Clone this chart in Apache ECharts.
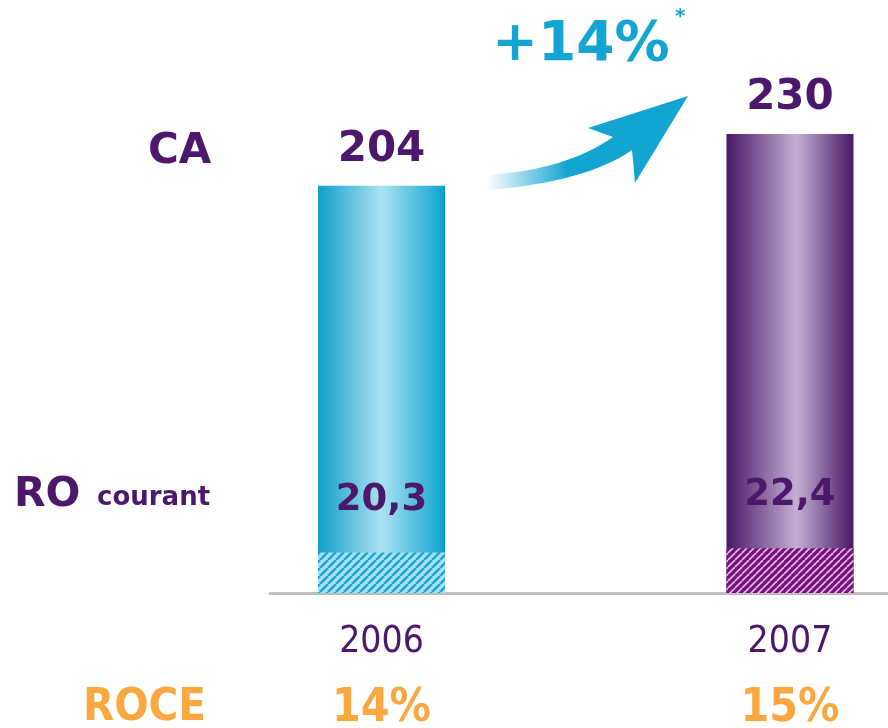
<!DOCTYPE html>
<html>
<head>
<meta charset="utf-8">
<script src="https://cdn.jsdelivr.net/npm/echarts@6/dist/echarts.min.js"></script>
<style>
html,body{margin:0;padding:0;background:#fff;}
#main{width:888px;height:728px;}
</style>
</head>
<body>
<div id="main"></div>
<script>
var years = ['2006', '2007'];
var ca = [204, 230];
var ro = [20.3, 22.4];
var roce = ['14%', '15%'];
var growth = '+14%';

var purple = '#4b186c';
var orange = '#f9a83f';
var cyan = '#12a5d1';

// striped fill for the lower (RO) part of the bars
function hatch(bg, fg, lw, step) {
    var c = document.createElement('canvas');
    c.width = step; c.height = step;
    var g = c.getContext('2d');
    g.fillStyle = bg;
    g.fillRect(0, 0, step, step);
    g.strokeStyle = fg;
    g.lineWidth = lw;
    for (var k = -1; k <= 1; k++) {
        g.beginPath();
        g.moveTo(k * step, step);
        g.lineTo(k * step + step, 0);
        g.stroke();
    }
    return c;
}

// quadratic curve sampled into points (for the arrow outline)
function quad(p0, c, p1, n) {
    var pts = [];
    for (var i = 0; i <= n; i++) {
        var t = i / n, u = 1 - t;
        pts.push([u * u * p0[0] + 2 * u * t * c[0] + t * t * p1[0],
                  u * u * p0[1] + 2 * u * t * c[1] + t * t * p1[1]]);
    }
    return pts;
}
var arrowPts = quad([487, 175], [566, 170], [613, 137], 16)
    .concat([[588, 128], [688, 96], [635, 183]])
    .concat(quad([632, 150], [586, 182], [487, 190], 16));

var barFill = [
    new echarts.graphic.LinearGradient(0, 0, 1, 0, [
        {offset: 0, color: '#0f9fcc'},
        {offset: 0.5, color: '#abe2f0'},
        {offset: 0.97, color: '#16a6d1'},
        {offset: 1, color: '#0a94c2'}
    ]),
    new echarts.graphic.LinearGradient(0, 0, 1, 0, [
        {offset: 0, color: '#491766'},
        {offset: 0.55, color: '#c4afd3'},
        {offset: 1, color: '#491766'}
    ])
];
var hatchFill = [
    {image: hatch('#a9e0f0', '#1ea8d3', 2.5, 8), repeat: 'repeat'},
    {image: hatch('#7c0f7e', '#dcc6e6', 1.6, 7), repeat: 'repeat'}
];

var chart = echarts.init(document.getElementById('main'));

var option = {
    backgroundColor: '#fff',
    animation: false,
    grid: {left: 270, right: 0, top: 94, bottom: 135, outerBoundsMode: 'none', containLabel: false},
    xAxis: {
        type: 'value',
        min: -0.273,
        max: 1.24,
        splitLine: {show: false},
        axisTick: {show: false},
        axisLine: {show: true, onZero: false, lineStyle: {color: '#bfbfbf', width: 3}},
        axisLabel: {
            customValues: [0, 1],
            margin: 10,
            formatter: function (v) {
                var i = Math.round(v);
                return '{y|' + years[i] + '}\n{r|' + roce[i] + '}';
            },
            rich: {
                y: {fontFamily: 'DejaVu Sans Condensed', fontSize: 37, color: purple, lineHeight: 78},
                r: {fontFamily: 'DejaVu Sans Condensed', fontWeight: 'bold', fontSize: 46, color: orange, lineHeight: 56}
            }
        }
    },
    yAxis: {
        type: 'value',
        min: 0,
        max: 250,
        show: false
    },
    series: [
        {
            // CA: full bar
            type: 'bar',
            barWidth: 127,
            barGap: '-100%',
            z: 2,
            data: ca.map(function (v, i) {
                return {value: [i, v], itemStyle: {color: barFill[i]}};
            }),
            label: {
                show: true,
                position: 'top',
                distance: 15,
                formatter: function (p) { return String(ca[p.dataIndex]); },
                fontFamily: 'DejaVu Sans',
                fontWeight: 'bold',
                fontSize: 42,
                color: purple
            }
        },
        {
            // RO courant: hatched part drawn over the bottom of the CA bar
            type: 'bar',
            barWidth: 127,
            barGap: '-100%',
            z: 3,
            data: ro.map(function (v, i) {
                return {value: [i, v], itemStyle: {color: hatchFill[i]}};
            }),
            label: {
                show: true,
                position: 'top',
                distance: 34,
                formatter: function (p) { return String(ro[p.dataIndex]).replace('.', ','); },
                fontFamily: 'DejaVu Sans',
                fontWeight: 'bold',
                fontSize: 37,
                color: purple
            }
        }
    ],
    graphic: [
        {type: 'text', left: 148, top: 131, style: {text: 'CA', font: 'bold 42px "DejaVu Sans"', fill: purple}},
        {type: 'text', left: 14, top: 475, style: {text: 'RO', font: 'bold 41px "DejaVu Sans"', fill: purple}},
        {type: 'text', left: 97, top: 485, style: {text: 'courant', font: 'bold 26px "DejaVu Sans"', fill: purple}},
        {type: 'text', left: 83, top: 686, style: {text: 'ROCE', font: 'bold 45px "DejaVu Sans Condensed"', fill: orange}},
        {type: 'text', left: 492, top: 18, style: {text: growth, font: 'bold 55px "DejaVu Sans"', fill: cyan}},
        {type: 'text', left: 675, top: 7, style: {text: '*', font: 'bold 20px "DejaVu Sans"', fill: cyan}},
        {
            type: 'polygon',
            shape: {points: arrowPts},
            style: {
                fill: new echarts.graphic.LinearGradient(0, 0, 1, 0, [
                    {offset: 0, color: 'rgba(18,165,209,0)'},
                    {offset: 0.4, color: 'rgba(18,165,209,1)'},
                    {offset: 1, color: 'rgba(18,165,209,1)'}
                ])
            }
        }
    ]
};

chart.setOption(option);
</script>
</body>
</html>
